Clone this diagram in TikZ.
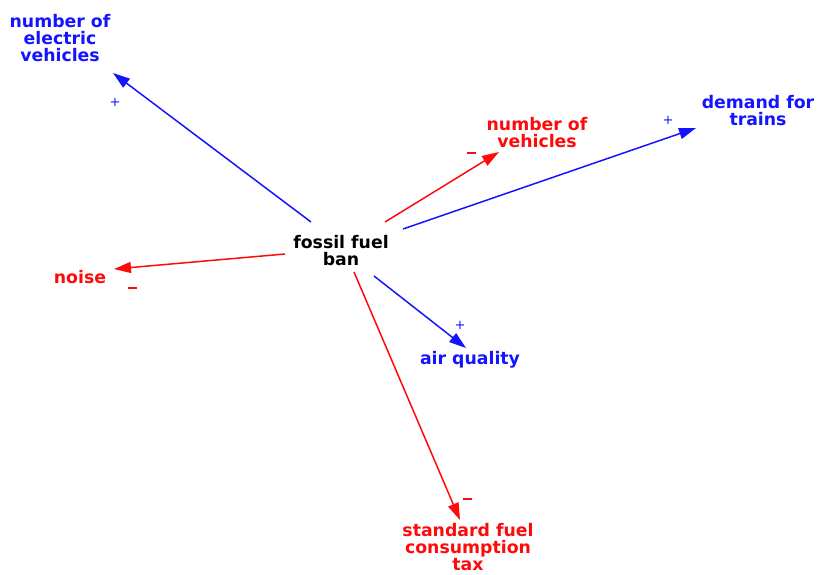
\documentclass[tikz,border=0pt]{standalone}
\usepackage{fontspec}
\setmainfont{DejaVu Sans}
\usetikzlibrary{arrows.meta}
\definecolor{cblue}{RGB}{20,20,255}
\definecolor{cred}{RGB}{255,10,10}
\tikzset{
  lbl/.style={inner sep=0pt, align=center, font=\fontsize{17.3}{17}\selectfont\bfseries},
  arr/.style={line width=1.5pt, -{Triangle[length=17pt,width=11pt]}},
  pol/.style={inner sep=0pt, font=\fontsize{13}{13}\selectfont},
  neg/.style={inner sep=0pt},
}
\newcommand{\negsign}{\rule{9pt}{1.4pt}}
\begin{document}
\begin{tikzpicture}[x=1pt,y=-1pt]
\useasboundingbox (0,0) rectangle (818,574);
% nodes
\node[lbl] (ffb) at (341,251) {fossil fuel\\ban};
\node[lbl, text=cblue] (nev) at (60,38) {number of\\electric\\vehicles};
\node[lbl, text=cred] (nv) at (537,133) {number of\\vehicles};
\node[lbl, text=cblue] (dft) at (758,111) {demand for\\trains};
\node[lbl, text=cred] (noise) at (80,277) {noise};
\node[lbl, text=cblue] (aq) at (470,360) {air quality};
\node[lbl, text=cred] (tax) at (468,547) {standard fuel\\consumption\\tax};
% connector end points
\coordinate (s1) at (311,222); \coordinate (e1) at (113,73);
\coordinate (s2) at (385,222); \coordinate (e2) at (499,152);
\coordinate (s3) at (403,229); \coordinate (e3) at (696,128);
\coordinate (s4) at (285,254); \coordinate (e4) at (114,269);
\coordinate (s5) at (374,276); \coordinate (e5) at (466,348);
\coordinate (s6) at (354,272); \coordinate (e6) at (460,520);
% connectors
\draw[arr, cblue] (s1) -- (e1);
\draw[arr, cred] (s2) -- (e2);
\draw[arr, cblue] (s3) -- (e3);
\draw[arr, cred] (s4) -- (e4);
\draw[arr, cblue] (s5) -- (e5);
\draw[arr, cred] (s6) -- (e6);
% polarities
\node[pol, text=cblue] (p1) at (115,102) {+};
\node[neg, text=cred] (p2) at (471,153) {\negsign};
\node[pol, text=cblue] (p3) at (668,120) {+};
\node[neg, text=cred] (p4) at (132,288) {\negsign};
\node[pol, text=cblue] (p5) at (460,325) {+};
\node[neg, text=cred] (p6) at (467,499) {\negsign};
\end{tikzpicture}
\end{document}
